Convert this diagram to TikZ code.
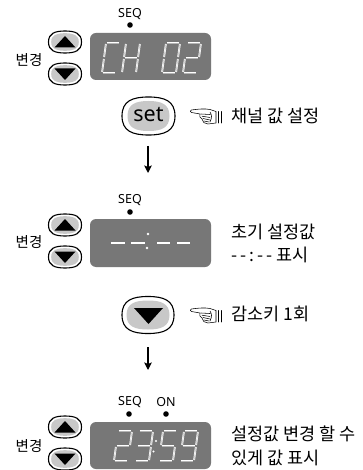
\documentclass[tikz,border=0pt]{standalone}
\usepackage{fontspec}
\usetikzlibrary{arrows.meta}
\newfontfamily\krfont{Noto Sans CJK KR}
\newfontfamily\latfont{Noto Sans}
\definecolor{panelgray}{HTML}{777777}
\definecolor{keygray}{HTML}{C8C8C8}
\tikzset{
  panel/.style={fill=panelgray,rounded corners=6pt},
  segline/.style={draw=white,line width=.7pt,double=panelgray!55!white,double distance=.4pt},
  dashline/.style={draw=white,line width=1.6pt},
  label/.style={inner sep=0pt,font=\latfont\fontsize{12.5}{14}\selectfont},
  krsmall/.style={inner sep=0pt,font=\krfont\fontsize{14.5}{16}\selectfont},
  krtext/.style={inner sep=0pt,anchor=west,align=left,font=\krfont\fontsize{17.5}{24}\selectfont},
  flowarrow/.style={line width=1.3pt,-{Stealth[length=7.5pt,width=7.5pt,inset=1.5pt]}},
  lampdot/.style={circle,fill=black,minimum size=5.6pt,inner sep=0pt},
  handline/.style={line width=.55pt,line join=round,line cap=round},
}
\newcommand\segA{(1,-30)--(13,-30)}
\newcommand\segB{(14,-29)--(14,-16)}
\newcommand\segC{(14,-14)--(14,-1)}
\newcommand\segD{(1,0)--(13,0)}
\newcommand\segE{(0,-14)--(0,-1)}
\newcommand\segF{(0,-29)--(0,-16)}
\newcommand\segG{(1,-15)--(13,-15)}
\newcommand\sevenseg[3]{\begin{scope}[shift={(#1,#2)},xslant=.133]\foreach \s in {#3}{\draw[segline] \s;}\end{scope}}
\newcommand\keyoutline{(-1,0) .. controls (-1,-.8) and (-.6,-1) .. (0,-1) .. controls (.6,-1) and (1,-.8) .. (1,0) .. controls (1,.8) and (.6,1) .. (0,1) .. controls (-.6,1) and (-1,.8) .. (-1,0) -- cycle}
% centre x, centre y, half w, half h, inner half w, inner half h
\newcommand\keybody[6]{%
  \begin{scope}[shift={(#1,#2)}]
    \draw[line width=1.1pt,fill=white,xscale=#3,yscale=#4] \keyoutline;
    \fill[keygray,xscale=#5,yscale=#6] \keyoutline;
  \end{scope}}
\newcommand\upkey[2]{\keybody{#1}{#2}{16.5}{11}{13.8}{8.8}\fill (#1-10.5,#2+5.5) -- (#1+10.5,#2+5.5) -- (#1,#2-6) -- cycle;}
\newcommand\downkey[2]{\keybody{#1}{#2}{16.5}{11}{13.8}{8.8}\fill (#1-10.5,#2-5.5) -- (#1+10.5,#2-5.5) -- (#1,#2+6) -- cycle;}
\newcommand\handicon[2]{%
  \begin{scope}[shift={(#1,#2)}]
    \draw[handline,fill=white] (26,3.5) -- (20,1.5) .. controls (15,.5) and (8,1) .. (1.5,2) .. controls (0,2.5) and (0,4) .. (1.5,4.5) -- (10,6) .. controls (9,8) and (10,10) .. (12,11) .. controls (12,14) and (15,16) .. (18,16) -- (26,15) -- cycle;
    \draw[handline] (11,6) -- (20,6.5) (12,8.2) -- (20,9.5) (13,10.5) -- (20,12) (14,13) -- (19,14) (20,4) .. controls (22,7) and (22,10) .. (20,14);
    \draw[handline] (28.5,3.5) -- (28.5,15);
    \draw[handline] (31,3.5) -- (31,15);
  \end{scope}}
\begin{document}
\begin{tikzpicture}[x=1pt,y=-1pt]
\useasboundingbox (0,0) rectangle (362,470);
\fill[white] (0,0) rectangle (362,470);

% --- row 1
\node[label] (seqa) at (130,14) {SEQ};
\node[lampdot] (dota) at (130,25) {};
\upkey{65}{42}
\downkey{65}{74}
\node[krsmall] (chga) at (29,60) {변경};
\fill[panel] (90,33) rectangle (211,80);
\sevenseg{102}{73}{\segA,\segF,\segE,\segD}
\sevenseg{122}{73}{\segF,\segE,\segB,\segC,\segG}
\sevenseg{162}{73}{\segA,\segB,\segC,\segD,\segE,\segF}
\sevenseg{183}{73}{\segA,\segB,\segG,\segE,\segD}

% --- set key
\keybody{148.5}{116}{26.5}{19}{21}{15}
\node[inner sep=0pt,font=\latfont\fontsize{21.5}{24}\selectfont] (setkey) at (148.5,114.5) {set};
\handicon{190}{108}
\node[krtext] (ta) at (231,116) {채널 값 설정};
\coordinate (a1s) at (148,146);
\coordinate (a1e) at (148,173);
\draw[flowarrow] (a1s) -- (a1e);

% --- row 2
\node[label] (seqb) at (130,200) {SEQ};
\node[lampdot] (dotb) at (130,212) {};
\upkey{65}{225}
\downkey{65}{257}
\node[krsmall] (chgb) at (29,242) {변경};
\fill[panel] (90,219) rectangle (211,267);
\draw[dashline] (111,243) -- (125,243);
\draw[dashline] (131,243) -- (145,243);
\draw[dashline] (157,243) -- (170,243);
\draw[dashline] (177,243) -- (190,243);
\fill[white] (148,234) circle (1.3) (147,248) circle (1.3);
\node[krtext] (tb) at (231,243) {초기 설정값\\[-1pt]{\addfontfeature{LetterSpace=18}--:--} 표시};

% --- down key
\keybody{148}{315}{26}{18.5}{21.5}{14.5}
\fill (134,308) -- (163,308) -- (148.5,324) -- cycle;
\coordinate (a2s) at (148,347);
\coordinate (a2e) at (148,370);
\draw[flowarrow] (a2s) -- (a2e);
\handicon{190}{307}
\node[krtext] (tc) at (231,314) {감소키 1회};

% --- row 3
\node[label] (seqc) at (130,402) {SEQ};
\node[label] (onc) at (166,402) {ON};
\node[lampdot] (dotc) at (129,414) {};
\node[lampdot] (dotd) at (166,414) {};
\upkey{65}{427}
\downkey{65}{459}
\node[krsmall] (chgc) at (29,446) {변경};
\fill[panel] (90,422) rectangle (211,469);
\sevenseg{114}{461}{\segA,\segB,\segG,\segE,\segD}
\sevenseg{135}{461}{\segA,\segB,\segG,\segC,\segD}
\sevenseg{159}{461}{\segA,\segF,\segG,\segC,\segD}
\sevenseg{180}{461}{\segA,\segF,\segB,\segG,\segC,\segD}
\fill[white] (153.5,451.5) circle (1.1) (156,441) circle (1.1);
\node[krtext] (td) at (231,445.5) {설정값 변경 할 수\\있게 값 표시};
\end{tikzpicture}
\end{document}
